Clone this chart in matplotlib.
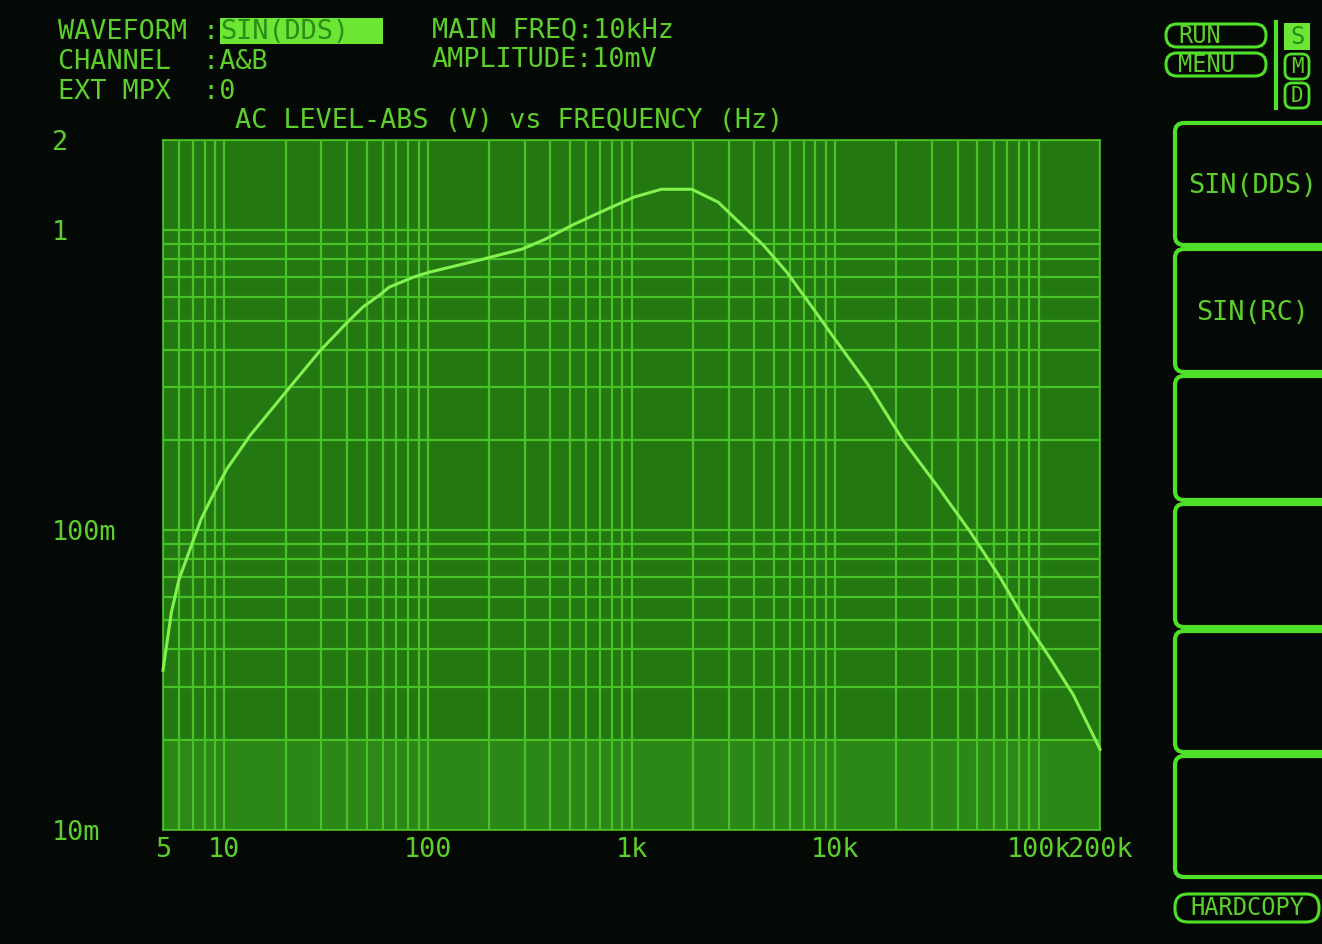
import numpy as np
import matplotlib
matplotlib.use('Agg')
import matplotlib.pyplot as plt
from matplotlib.patches import FancyBboxPatch, Rectangle

# measured trace: AC level (V) vs frequency (Hz)
freq = [5.0, 5.5, 6.0, 7.7, 8.95, 10.3, 13.4, 21.0, 29.4, 39.8, 48,
        57.7, 64.5, 84.5, 101, 177, 290, 376, 522, 756, 1023, 1400, 1977, 2670,
        3260, 4450, 5800, 7850, 9440, 14600, 21400, 31600, 46200, 65300, 79400,
        89100, 115000, 148000, 200000]
level = [0.0341, 0.0533, 0.0687, 0.109, 0.134, 0.160, 0.207, 0.300, 0.395,
         0.490, 0.555, 0.607, 0.646, 0.697, 0.724, 0.794, 0.865, 0.933,
         1.047, 1.175, 1.288, 1.37, 1.37, 1.24, 1.088, 0.891, 0.724, 0.545, 0.457,
         0.304, 0.201, 0.141, 0.0985, 0.0687, 0.0546, 0.0480, 0.0370, 0.0282, 0.0186]

x_ticks = [5, 10, 100, 1e3, 1e4, 1e5, 2e5]
x_labels = ['5', '10', '100', '1k', '10k', '100k', '200k']
y_ticks = [0.01, 0.1, 1, 2]
y_labels = ['10m', '100m', '1', '2']

menu_items = ['SIN(DDS)', 'SIN(RC)', '', '', '', '']

BG = '#050905'
FILL = '#247812'
GRID = '#48c226'
TRACE = '#82f24e'
TXT = '#5ccf2c'
BOX = '#4fe02a'
FONT = 'DejaVu Sans Mono'
FS = 19.4

fig = plt.figure(figsize=(13.22, 9.44), dpi=100, facecolor=BG)

# main plot area
ax = fig.add_axes([163/1322, 1 - 830/944, 937/1322, 690/944])
ax.set_facecolor(FILL)
ax.set_xscale('log')
ax.set_yscale('log')
ax.set_xlim(5, 2e5)
ax.set_ylim(0.01, 2)
ax.axhspan(0.01, 0.02, color='#2b8716', zorder=0, lw=0)

xminor = [m * 10**d for d in range(0, 6) for m in range(1, 10) if 5 <= m * 10**d <= 2e5]
yminor = [m * 10**d for d in (-2, -1) for m in range(2, 10)]
ax.set_xticks(xminor, minor=True)
ax.set_yticks(yminor, minor=True)
ax.set_xticks(x_ticks)
ax.set_xticklabels(x_labels, family=FONT, fontsize=FS, color=TXT)
ax.set_yticks(y_ticks)
ax.set_yticklabels(y_labels, family=FONT, fontsize=FS, color=TXT)
ax.set_xticklabels([], minor=True)
ax.set_yticklabels([], minor=True)
for lab in ax.get_yticklabels():
    lab.set_horizontalalignment('left')
ax.tick_params(axis='both', which='both', length=0)
ax.tick_params(axis='x', pad=5)
ax.tick_params(axis='y', pad=80)
ax.grid(True, which='both', color=GRID, lw=1.6)
for s in ax.spines.values():
    s.set_color(GRID)
    s.set_linewidth(1.2)

ax.plot(freq, level, color=TRACE, lw=2.2, zorder=5, clip_on=False)

# overlay in pixel coordinates for the screen text and soft keys
ov = fig.add_axes([0, 0, 1, 1], facecolor='none')
ov.set_xlim(0, 1322)
ov.set_ylim(944, 0)
ov.axis('off')

def txt(x, y, s, size=FS, **kw):
    kw.setdefault('color', TXT)
    ov.text(x, y, s, family=FONT, fontsize=size, va='center', **kw)

txt(58, 32, 'WAVEFORM :')
ov.add_patch(Rectangle((220, 18), 163, 26, color='#6be634', lw=0))
txt(220, 32, 'SIN(DDS)', color='#2c8c16')
txt(58, 62, 'CHANNEL  :A&B')
txt(58, 92, 'EXT MPX  :0')
txt(432, 31, 'MAIN FREQ:10kHz')
txt(432, 60, 'AMPLITUDE:10mV')
txt(235, 121, 'AC LEVEL-ABS (V) vs FREQUENCY (Hz)')

# RUN / MENU pills
for y0, s in [(24, 'RUN'), (53, 'MENU')]:
    ov.add_patch(FancyBboxPatch((1166, y0), 100, 23, boxstyle='round,pad=0,rounding_size=11',
                                fill=False, ec=BOX, lw=2.2))
    txt(1178, y0 + 12, s, size=17)
ov.plot([1276, 1276], [22, 108], color=BOX, lw=3)
ov.add_patch(Rectangle((1284, 23), 26, 27, color='#6be634', lw=0))
txt(1297, 37, 'S', ha='center', color='#2c8c16', size=17)
for y0, s in [(54, 'M'), (83, 'D')]:
    ov.add_patch(FancyBboxPatch((1285, y0), 24, 25, boxstyle='round,pad=0,rounding_size=7',
                                fill=False, ec=BOX, lw=2))
    txt(1297, y0 + 13, s, ha='center', size=15)

# soft key boxes
tops = [123, 249, 376, 504, 631, 756]
bottoms = [245, 372, 500, 627, 752, 877]
for t, b, s in zip(tops, bottoms, menu_items):
    ov.add_patch(FancyBboxPatch((1175, t), 170, b - t, boxstyle='round,pad=0,rounding_size=9',
                                fill=False, ec=BOX, lw=3, clip_on=False))
    if s:
        txt(1253, (t + b) / 2 + 2, s, ha='center')

ov.add_patch(FancyBboxPatch((1175, 894), 144, 28, boxstyle='round,pad=0,rounding_size=13',
                            fill=False, ec=BOX, lw=2.2))
txt(1247, 908, 'HARDCOPY', ha='center', size=17)

fig.savefig('out.png', dpi=100, facecolor=BG)
